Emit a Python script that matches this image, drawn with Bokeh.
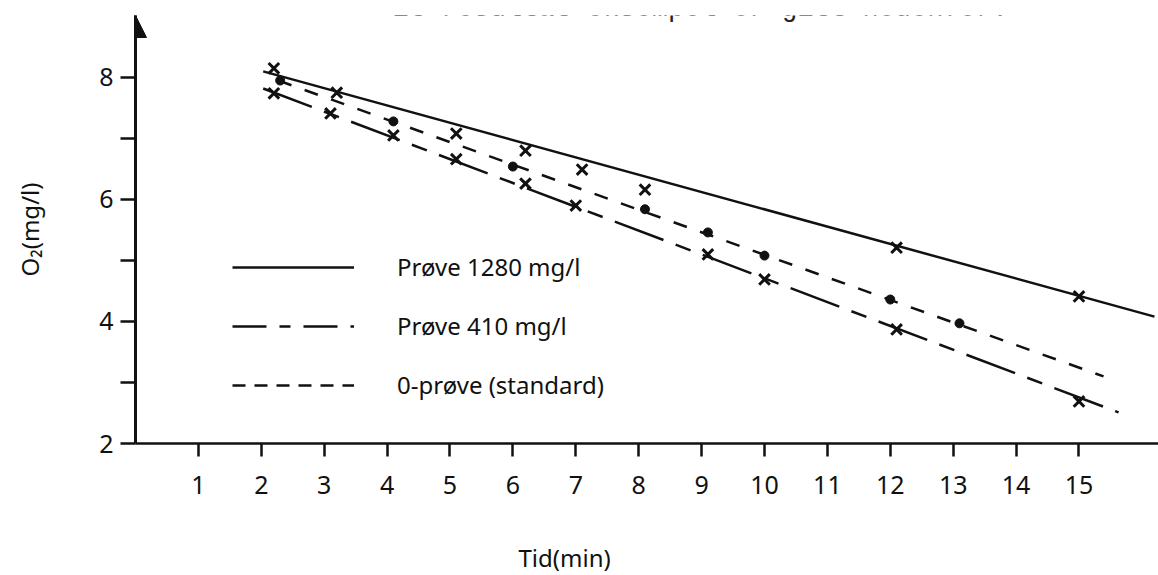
from bokeh.plotting import figure
from bokeh.models import (Arrow, NormalHead, Label, Legend, LegendItem,
                          FixedTicker, Range1d, Title)
from bokeh.embed import file_html
from bokeh.resources import INLINE

# ---------------- data ----------------
x_ticks = list(range(1, 16))
y_ticks = [2, 4, 6, 8]
y_minor = [3, 5, 7]

# Prøve 1280 mg/l  (x markers, solid fitted line)
t_1280 = [2.2, 3.2, 5.1, 6.2, 7.1, 8.1, 12.1, 15.0]
o2_1280 = [8.15, 7.75, 7.08, 6.80, 6.49, 6.16, 5.21, 4.41]
fit_t_1280 = [2.03, 16.2]
fit_o2_1280 = [8.10, 4.08]

# Prøve 410 mg/l  (x markers, long-short dashed fitted line)
t_410 = [2.2, 3.1, 4.1, 5.1, 6.2, 7.0, 9.1, 10.0, 12.1, 15.0]
o2_410 = [7.74, 7.41, 7.05, 6.66, 6.26, 5.90, 5.10, 4.69, 3.87, 2.69]
fit_t_410 = [2.03, 15.63]
fit_o2_410 = [7.82, 2.51]

# 0-prøve (standard)  (dots, short dashed fitted line)
t_std = [2.3, 4.1, 6.0, 8.1, 9.1, 10.0, 12.0, 13.1]
o2_std = [7.95, 7.28, 6.54, 5.84, 5.46, 5.08, 4.36, 3.97]
fit_t_std = [2.27, 15.39]
fit_o2_std = [7.95, 3.10]

labels = ["Prøve 1280 mg/l", "Prøve 410 mg/l", "0-prøve (standard)"]

FONT = "Noto Sans"
INK = "#111111"
NAN = float("nan")

p = figure(width=1158, height=575, output_backend="svg", toolbar_location=None,
           x_range=Range1d(0, 16.264), y_range=Range1d(2, 9.016),
           min_border_left=135, min_border_right=0, min_border_top=15,
           min_border_bottom=132)
p.xgrid.visible = False
p.ygrid.visible = False
p.outline_line_color = None
p.background_fill_color = "white"
p.border_fill_color = "white"

xa = p.xaxis[0]
xa.ticker = FixedTicker(ticks=x_ticks, minor_ticks=[])
xa.axis_line_width = 2.5
xa.axis_line_color = INK
xa.major_tick_in = 0
xa.major_tick_out = 13
xa.major_tick_line_width = 2.5
xa.major_tick_line_color = INK
xa.major_label_standoff = 19
xa.major_label_text_font = FONT
xa.major_label_text_font_size = "25px"
xa.major_label_text_color = INK
# blank axis label only reserves room so the title below sits low
xa.axis_label = " "
xa.axis_label_standoff = 35
xa.axis_label_text_font_size = "2px"

ya = p.yaxis[0]
ya.ticker = FixedTicker(ticks=y_ticks, minor_ticks=y_minor)
ya.axis_line_width = 3
ya.axis_line_color = INK
ya.major_tick_in = 0
ya.major_tick_out = 15
ya.minor_tick_in = 0
ya.minor_tick_out = 15
ya.major_tick_line_width = 2.5
ya.minor_tick_line_width = 2.5
ya.major_tick_line_color = INK
ya.minor_tick_line_color = INK
ya.major_label_standoff = 7
ya.major_label_text_font = FONT
ya.major_label_text_font_size = "25px"
ya.major_label_text_color = INK
ya.axis_label = "O₂(mg/l)"
ya.axis_label_standoff = 50
ya.axis_label_text_font = FONT
ya.axis_label_text_font_size = "24px"
ya.axis_label_text_font_style = "normal"
ya.axis_label_text_color = INK

# x axis title, below the tick labels, shifted to sit under the middle ticks
p.add_layout(Title(text="Tid(min)", align="left", offset=383, standoff=4,
                   vertical_align="bottom",
                   text_font=FONT, text_font_size="24px",
                   text_font_style="normal", text_color=INK), "below")

# arrow on y axis
p.add_layout(Arrow(end=NormalHead(size=22, fill_color=INK, line_color=INK),
                   x_start=0, y_start=8.6, x_end=0, y_end=9.016,
                   line_width=3, line_color=INK))

# fitted lines
p.line(fit_t_1280, fit_o2_1280, line_width=2.5, line_color=INK)
p.line(fit_t_410, fit_o2_410, line_width=2.5, line_color=INK, line_dash="52 13 16 13")
p.line(fit_t_std, fit_o2_std, line_width=2.5, line_color=INK, line_dash="14 14")

# measured points
p.scatter(t_1280, o2_1280, marker="x", size=15, line_width=3, line_color=INK)
p.scatter(t_410, o2_410, marker="x", size=15, line_width=3, line_color=INK)
p.scatter(t_std, o2_std, marker="circle", size=9, fill_color=INK, line_color=INK)

# legend samples (renderers without drawable points, carrying the legend styles)
d1 = p.line([NAN, NAN], [NAN, NAN], line_width=2.5, line_color=INK)
d2 = p.line([NAN, NAN], [NAN, NAN], line_width=2.5, line_color=INK,
            line_dash="34 13 11 13")
d3 = p.line([NAN, NAN], [NAN, NAN], line_width=2.5, line_color=INK,
            line_dash="13 9")
legend = Legend(items=[LegendItem(label=labels[0], renderers=[d1]),
                       LegendItem(label=labels[1], renderers=[d2]),
                       LegendItem(label=labels[2], renderers=[d3])],
                location=(97, 42), glyph_width=122, glyph_height=30,
                label_height=30, spacing=26, label_standoff=43, padding=0,
                margin=0, border_line_color=None, background_fill_alpha=0,
                label_text_font=FONT, label_text_font_size="24px",
                label_text_color=INK)
p.add_layout(legend)

# cut-off line of typewriter text above the chart
p.add_layout(Label(x=4.086, y=9.115, text="Et resultat eksempel er gitt nedenfor.",
                   text_align="left", text_baseline="alphabetic",
                   text_font="Liberation Mono", text_font_size="27px",
                   text_color="#222222"))

open("out.html", "w").write(file_html(p, INLINE))
